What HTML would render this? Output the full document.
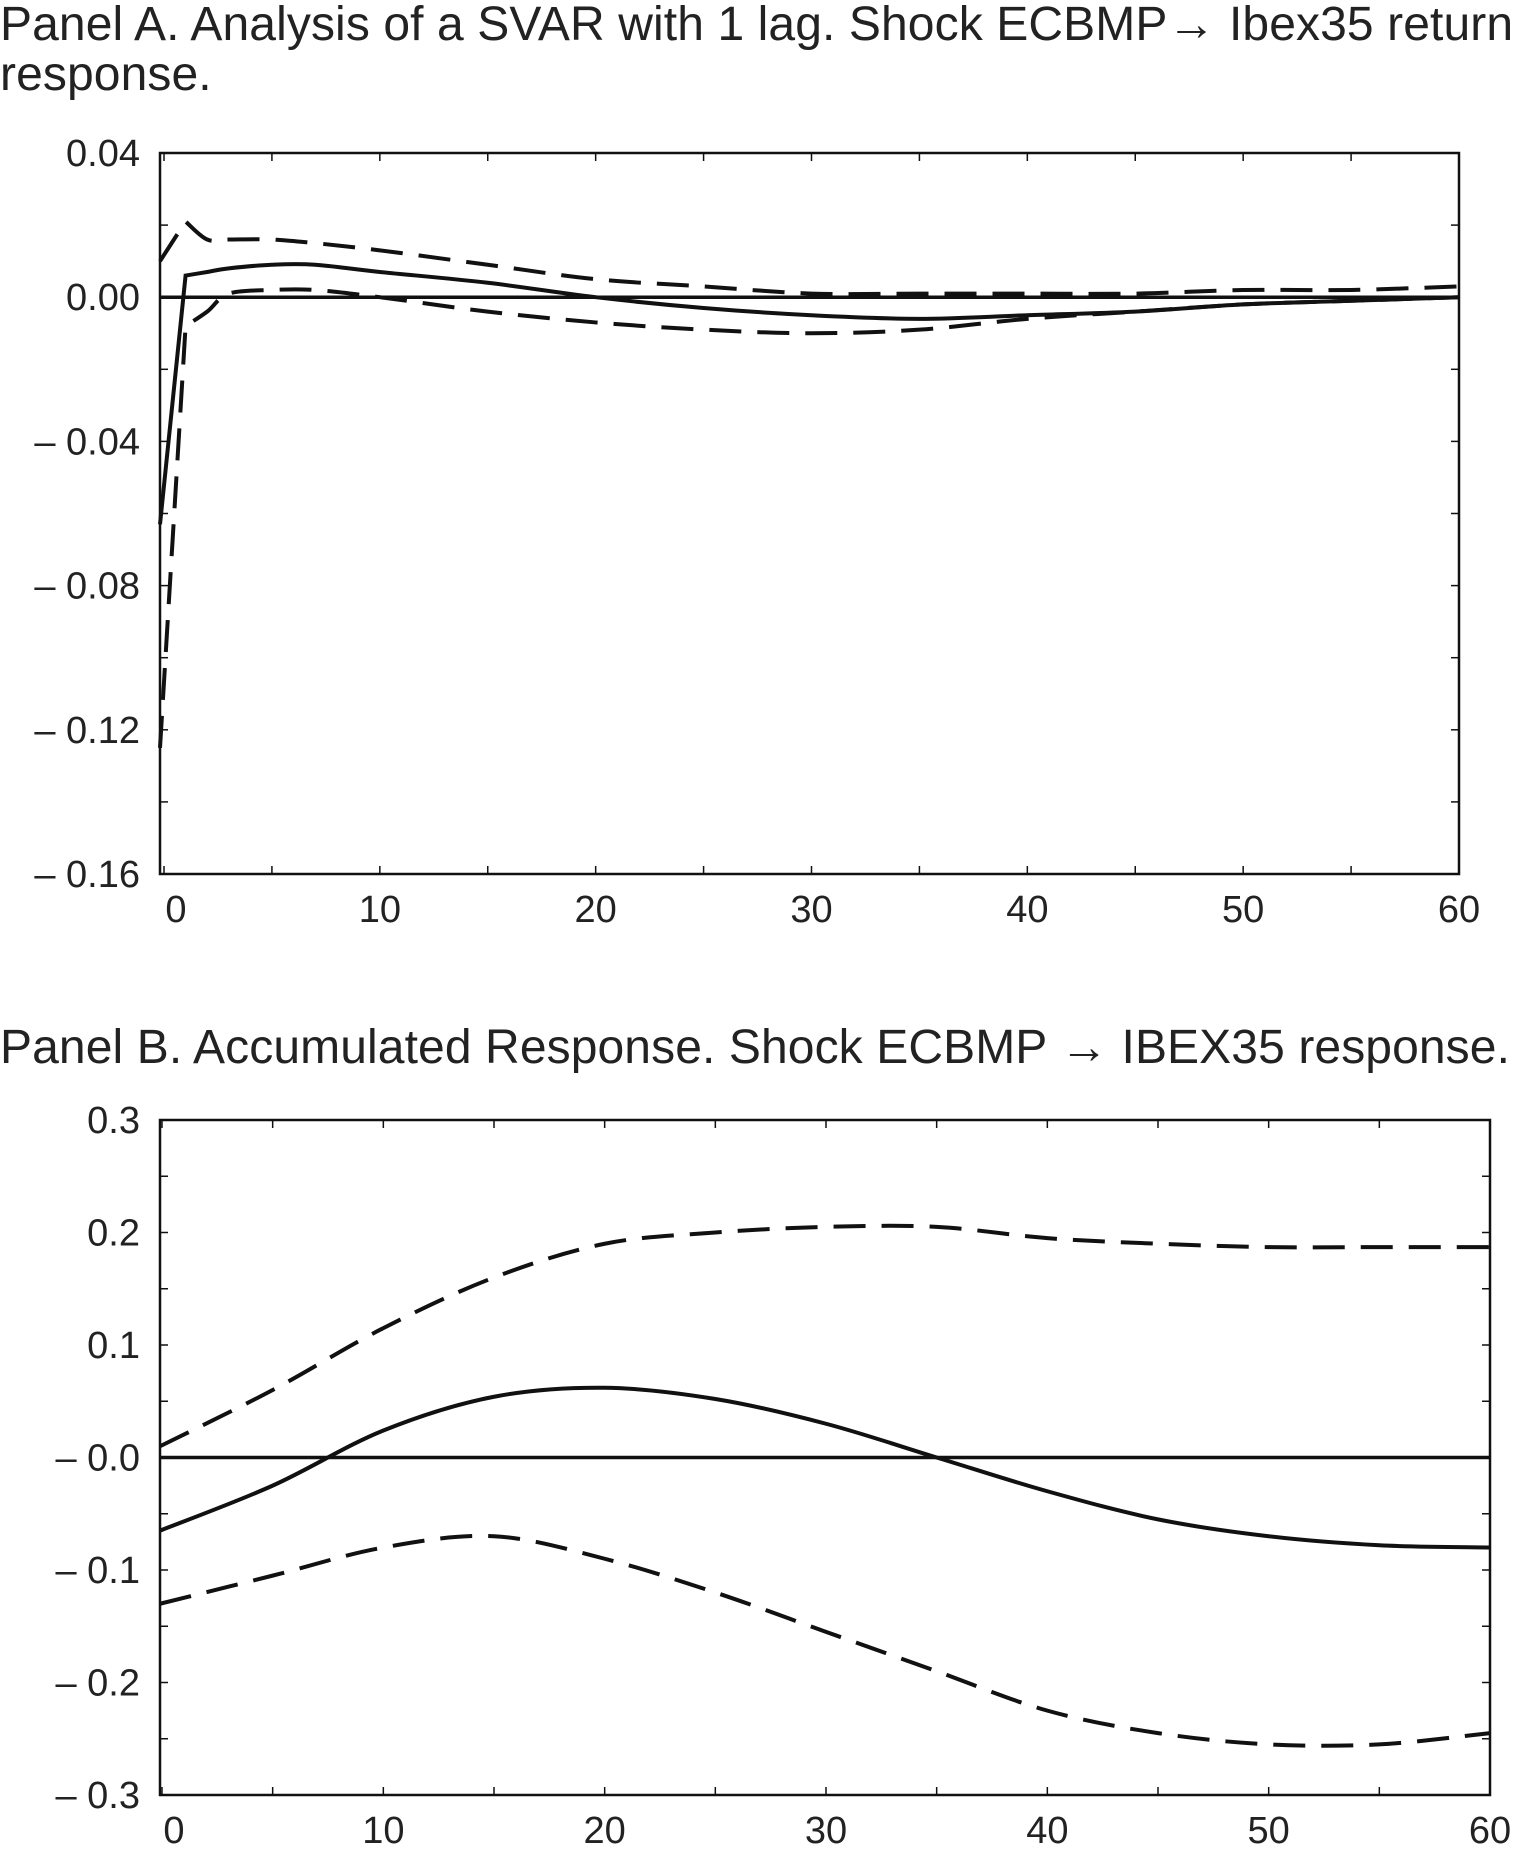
<!DOCTYPE html>
<html><head><meta charset="utf-8"><style>
body{margin:0;background:#fff;width:1524px;height:1863px;overflow:hidden;font-family:"Liberation Sans",sans-serif;}
.t{position:absolute;left:0;font-size:48px;color:#222;white-space:nowrap;letter-spacing:0.1px}
</style></head><body>
<div class="t" style="top:0px;line-height:50px">Panel A. Analysis of a SVAR with 1 lag. Shock ECBMP→ Ibex35 return<br>response.</div>
<div class="t" style="top:1020px">Panel B. Accumulated Response. Shock ECBMP → IBEX35 response.</div>
<svg id="svg" width="1524" height="1863" style="position:absolute;left:0;top:0"></svg>
<script>
const aT=[0,1,2,3,5,7,10,15,20,25,30,35,40,45,50,55,60];
const aMid=[-0.063,0.006,0.007,0.008,0.009,0.009,0.007,0.004,0,-0.003,-0.005,-0.006,-0.005,-0.004,-0.002,-0.001,0];
const aUp=[0.01,0.021,0.016,0.016,0.016,0.015,0.013,0.009,0.005,0.003,0.001,0.001,0.001,0.001,0.002,0.002,0.003];
const aLo=[-0.125,-0.008,-0.004,0.001,0.002,0.002,0,-0.004,-0.007,-0.009,-0.010,-0.009,-0.006,-0.004,-0.002,-0.001,0];
const aYTicks=[0.04,0,-0.04,-0.08,-0.12,-0.16];
const aYLabels=["0.04","0.00","– 0.04","– 0.08","– 0.12","– 0.16"];
const bT=[0,5,10,15,20,25,30,35,40,45,50,55,60];
const bMid=[-0.065,-0.025,0.024,0.054,0.062,0.052,0.03,0,-0.03,-0.055,-0.07,-0.078,-0.08];
const bUp=[0.01,0.06,0.115,0.16,0.19,0.2,0.205,0.205,0.195,0.19,0.187,0.187,0.187];
const bLo=[-0.13,-0.105,-0.08,-0.07,-0.09,-0.12,-0.155,-0.19,-0.225,-0.245,-0.255,-0.255,-0.245];
const bYTicks=[0.3,0.2,0.1,0,-0.1,-0.2,-0.3];
const bYLabels=["0.3","0.2","0.1","– 0.0","– 0.1","– 0.2","– 0.3"];
const xTicks=[0,10,20,30,40,50,60];
const NS="http://www.w3.org/2000/svg";
const svg=document.getElementById('svg');
function mk(tag,attrs,parent){const e=document.createElementNS(NS,tag);for(const k in attrs)e.setAttribute(k,attrs[k]);(parent||svg).appendChild(e);return e;}
function smooth(pts){let d="M"+pts[0][0]+","+pts[0][1];for(let i=0;i<pts.length-1;i++){const p0=pts[Math.max(0,i-1)],p1=pts[i],p2=pts[i+1],p3=pts[Math.min(pts.length-1,i+2)];const c1x=p1[0]+(p2[0]-p0[0])/6,c1y=p1[1]+(p2[1]-p0[1])/6,c2x=p2[0]-(p3[0]-p1[0])/6,c2y=p2[1]-(p3[1]-p1[1])/6;d+=` C${c1x},${c1y} ${c2x},${c2y} ${p2[0]},${p2[1]}`;}return d;}
function panel(name,L,R,T,B,x0px,ymax,ymin,yTicks,yLabels,minorStep,ts,mid,up,lo,linearStart){
  const g=mk('g',{});
  
  
  const xs=t=>x0px+(R-x0px)*t/60;
  const ys=v=>T+(B-T)*(ymax-v)/(ymax-ymin);
  const fr=mk('rect',{x:L,y:T,width:R-L,height:B-T,fill:'none',stroke:'#111','stroke-width':2.5},g);
  
  
  for(let t=0;t<=60;t+=5){const x=xs(t);mk('line',{x1:x,x2:x,y1:B,y2:B-8,stroke:'#111','stroke-width':1.5},g);mk('line',{x1:x,x2:x,y1:T,y2:T+8,stroke:'#111','stroke-width':1.5},g);}
  for(let v=ymin;v<=ymax+1e-9;v+=minorStep){const y=ys(v);mk('line',{x1:L,x2:L+8,y1:y,y2:y,stroke:'#111','stroke-width':1.5},g);mk('line',{x1:R,x2:R-8,y1:y,y2:y,stroke:'#111','stroke-width':1.5},g);}
  yTicks.forEach((v,i)=>{const tx=mk('text',{x:L-20,y:ys(v)+13,'text-anchor':'end','font-size':38,fill:'#222','font-family':'Liberation Sans, sans-serif'},g);tx.textContent=yLabels[i];
    
    });
  xTicks.forEach(t=>{const tx=mk('text',{x:xs(t)+(t==0?12:0),y:B+48,'text-anchor':'middle','font-size':38,fill:'#222','font-family':'Liberation Sans, sans-serif'},g);tx.textContent=t;
    
    });
  const z=mk('line',{x1:L,x2:R,y1:ys(0),y2:ys(0),stroke:'#111','stroke-width':3.5},g);
  
  
  [[up,'upper-band',true],[lo,'lower-band',true],[mid,'response-line',false]].forEach(([arr,nm,dash])=>{
    const pts=ts.map((t,i)=>[t===0?L:xs(t),ys(arr[i])]);
    let d;
    if(linearStart){d="M"+pts[0][0]+","+pts[0][1]+" "+smooth(pts.slice(1)).replace(/^M/,"L");}else d=smooth(pts);
    const p=mk('path',{d:d,fill:'none',stroke:'#111','stroke-width':4,'stroke-dasharray':dash?'32 16':'none'},g);
    
    
  });
}
panel('panel-a-chart',160,1459,153,874,164,0.04,-0.16,aYTicks,aYLabels,0.02,aT,aMid,aUp,aLo,true);
panel('panel-b-chart',160,1490,1120,1795,162,0.3,-0.3,bYTicks,bYLabels,0.05,bT,bMid,bUp,bLo,false);
</script>
</body></html>
